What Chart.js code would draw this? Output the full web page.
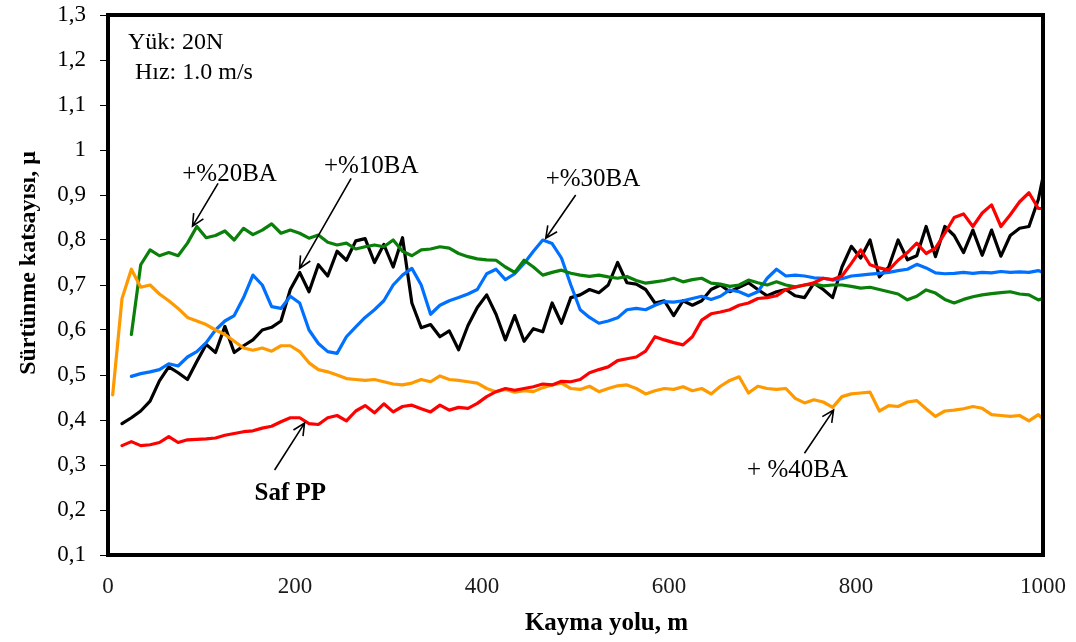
<!DOCTYPE html>
<html>
<head>
<meta charset="utf-8">
<script src="https://cdn.jsdelivr.net/npm/chart.js@4/dist/chart.umd.min.js"></script>
<style>
    body { margin: 0; background: #fff; }
</style>
</head>
<body>
<canvas id="friction-chart" width="1076" height="642"></canvas>
<script>
// Sliding distance (m), shared by every curve
const distance = [5, 15, 25, 35, 45, 55, 65, 75, 85, 95,
    105, 115, 125, 135, 145, 155, 165, 175, 185, 195,
    205, 215, 225, 235, 245, 255, 265, 275, 285, 295,
    305, 315, 325, 335, 345, 355, 365, 375, 385, 395,
    405, 415, 425, 435, 445, 455, 465, 475, 485, 495,
    505, 515, 525, 535, 545, 555, 565, 575, 585, 595,
    605, 615, 625, 635, 645, 655, 665, 675, 685, 695,
    705, 715, 725, 735, 745, 755, 765, 775, 785, 795,
    805, 815, 825, 835, 845, 855, 865, 875, 885, 895,
    905, 915, 925, 935, 945, 955, 965, 975, 985, 995, 1000];

// Friction coefficient
const safPP = [null, 0.343, 0.352, 0.343, 0.345, 0.350, 0.363, 0.350, 0.356, 0.357,
    0.358, 0.360, 0.366, 0.370, 0.374, 0.376, 0.382, 0.386, 0.396, 0.405,
    0.405, 0.392, 0.390, 0.405, 0.410, 0.398, 0.420, 0.432, 0.416, 0.436,
    0.418, 0.430, 0.433, 0.425, 0.418, 0.433, 0.422, 0.428, 0.426, 0.437,
    0.452, 0.463, 0.470, 0.466, 0.470, 0.474, 0.480, 0.478, 0.486, 0.485,
    0.490, 0.505, 0.512, 0.518, 0.532, 0.536, 0.540, 0.553, 0.585, 0.578,
    0.572, 0.567, 0.585, 0.622, 0.636, 0.640, 0.645, 0.655, 0.660, 0.670,
    0.672, 0.676, 0.690, 0.695, 0.700, 0.705, 0.715, 0.712, 0.720, 0.748,
    0.778, 0.745, 0.738, 0.733, 0.755, 0.772, 0.793, 0.770, 0.782, 0.815,
    0.850, 0.858, 0.830, 0.860, 0.878, 0.830, 0.856, 0.885, 0.905, 0.870, 0.870];

const ba10 = [null, 0.392, 0.405, 0.420, 0.442, 0.487, 0.518, 0.505, 0.490, 0.530,
    0.568, 0.550, 0.608, 0.550, 0.565, 0.578, 0.600, 0.606, 0.620, 0.690,
    0.728, 0.685, 0.745, 0.720, 0.775, 0.755, 0.798, 0.803, 0.750, 0.790,
    0.740, 0.805, 0.660, 0.605, 0.612, 0.585, 0.598, 0.556, 0.610, 0.650,
    0.678, 0.635, 0.578, 0.632, 0.575, 0.603, 0.596, 0.660, 0.615, 0.672,
    0.678, 0.690, 0.683, 0.700, 0.750, 0.705, 0.702, 0.690, 0.660, 0.665,
    0.632, 0.665, 0.655, 0.665, 0.690, 0.700, 0.685, 0.695, 0.705, 0.690,
    0.676, 0.685, 0.690, 0.676, 0.672, 0.704, 0.690, 0.672, 0.740, 0.786,
    0.760, 0.800, 0.718, 0.740, 0.800, 0.756, 0.765, 0.830, 0.763, 0.830,
    0.810, 0.772, 0.822, 0.766, 0.822, 0.764, 0.810, 0.826, 0.830, 0.890, 0.940];

const ba20 = [null, null, 0.590, 0.745, 0.778, 0.765, 0.772, 0.765, 0.793, 0.830,
    0.805, 0.810, 0.820, 0.800, 0.826, 0.812, 0.822, 0.836, 0.815, 0.822,
    0.815, 0.804, 0.811, 0.795, 0.789, 0.793, 0.780, 0.785, 0.789, 0.785,
    0.800, 0.775, 0.765, 0.778, 0.780, 0.785, 0.782, 0.770, 0.763, 0.758,
    0.756, 0.755, 0.740, 0.728, 0.755, 0.740, 0.722, 0.728, 0.733, 0.726,
    0.722, 0.719, 0.722, 0.718, 0.715, 0.719, 0.710, 0.704, 0.707, 0.710,
    0.715, 0.707, 0.712, 0.715, 0.704, 0.702, 0.697, 0.700, 0.711, 0.705,
    0.700, 0.707, 0.700, 0.696, 0.700, 0.702, 0.698, 0.700, 0.700, 0.697,
    0.693, 0.695, 0.690, 0.685, 0.680, 0.667, 0.675, 0.689, 0.682, 0.668,
    0.660, 0.668, 0.674, 0.678, 0.681, 0.683, 0.685, 0.680, 0.678, 0.667, 0.670];

const ba30 = [null, null, 0.497, 0.503, 0.507, 0.512, 0.525, 0.520, 0.540, 0.552,
    0.572, 0.600, 0.620, 0.632, 0.672, 0.722, 0.700, 0.652, 0.648, 0.675,
    0.660, 0.600, 0.570, 0.552, 0.548, 0.585, 0.607, 0.628, 0.645, 0.665,
    0.700, 0.722, 0.737, 0.700, 0.635, 0.655, 0.665, 0.672, 0.680, 0.690,
    0.725, 0.735, 0.712, 0.725, 0.748, 0.775, 0.800, 0.792, 0.760, 0.700,
    0.645, 0.628, 0.615, 0.620, 0.627, 0.645, 0.648, 0.645, 0.655, 0.663,
    0.662, 0.665, 0.670, 0.675, 0.668, 0.675, 0.689, 0.685, 0.676, 0.685,
    0.715, 0.735, 0.720, 0.722, 0.720, 0.716, 0.715, 0.711, 0.714, 0.720,
    0.722, 0.724, 0.726, 0.728, 0.732, 0.735, 0.746, 0.738, 0.727, 0.725,
    0.726, 0.728, 0.726, 0.728, 0.727, 0.730, 0.728, 0.729, 0.728, 0.732, 0.728];

const ba40 = [0.456, 0.670, 0.735, 0.695, 0.700, 0.680, 0.665, 0.648, 0.628, 0.620,
    0.612, 0.600, 0.590, 0.575, 0.560, 0.555, 0.560, 0.553, 0.565, 0.565,
    0.552, 0.527, 0.512, 0.507, 0.500, 0.492, 0.490, 0.488, 0.490, 0.485,
    0.480, 0.478, 0.482, 0.490, 0.485, 0.498, 0.490, 0.488, 0.485, 0.482,
    0.470, 0.463, 0.468, 0.462, 0.465, 0.463, 0.472, 0.478, 0.482, 0.470,
    0.468, 0.475, 0.463, 0.470, 0.476, 0.478, 0.470, 0.458, 0.465, 0.470,
    0.468, 0.474, 0.465, 0.470, 0.458, 0.475, 0.488, 0.496, 0.460, 0.475,
    0.470, 0.468, 0.470, 0.448, 0.438, 0.445, 0.440, 0.428, 0.452, 0.458,
    0.460, 0.462, 0.420, 0.432, 0.430, 0.440, 0.443, 0.425, 0.408, 0.420,
    0.422, 0.425, 0.430, 0.426, 0.412, 0.410, 0.408, 0.410, 0.398, 0.412, 0.402];

// Axis tick labels (decimal comma)
const yTickLabels = ['0,1', '0,2', '0,3', '0,4', '0,5', '0,6', '0,7', '0,8', '0,9', '1', '1,1', '1,2', '1,3'];
const xTickLabels = ['0', '200', '400', '600', '800', '1000'];

// Curve labels with their arrows, in data units
const labelTexts = ['+%20BA', '+%10BA', '+%30BA', 'Saf PP', '+ %40BA'];
const labelPos = [[130, 0.931], [281.5, 0.949], [518.7, 0.919], [195, 0.222], [737.5, 0.274]];
const arrowFrom = [[117.7, 0.926], [260, 0.937], [500.2, 0.900], [178.2, 0.289], [744.9, 0.326]];
const arrowTo = [[90.4, 0.831], [204.9, 0.737], [468.2, 0.804], [210.2, 0.393], [776, 0.422]];
const labelBold = [false, false, false, true, false];

// Test conditions written in the corner
const noteTexts = ['Yük: 20N', 'Hız: 1.0 m/s'];
const notePos = [[21.3, 1.224], [28.8, 1.158]];

function pairs(values) {
    return distance.map((d, i) => ({ x: d, y: values[i] }));
}

function drawArrow(ctx, x1, y1, x2, y2) {
    // Line with an open V head at (x2, y2)
    const angle = Math.atan2(y2 - y1, x2 - x1);
    const head = 13;
    ctx.beginPath();
    ctx.moveTo(x1, y1);
    ctx.lineTo(x2, y2);
    ctx.moveTo(x2 - head * Math.cos(angle - 0.45), y2 - head * Math.sin(angle - 0.45));
    ctx.lineTo(x2, y2);
    ctx.lineTo(x2 - head * Math.cos(angle + 0.45), y2 - head * Math.sin(angle + 0.45));
    ctx.stroke();
}

// Frame, axis titles and the callout labels
const decorations = {
    id: 'decorations',
    afterDatasetsDraw(chart) {
        const { ctx, chartArea, scales } = chart;
        const sx = scales.x, sy = scales.y;
        ctx.save();

        // Heavy frame around the plot
        ctx.strokeStyle = '#000';
        ctx.lineWidth = 4;
        ctx.strokeRect(chartArea.left, chartArea.top, chartArea.right - chartArea.left, chartArea.bottom - chartArea.top);

        // Callouts
        ctx.fillStyle = '#000';
        ctx.lineWidth = 1.6;
        ctx.textAlign = 'center';
        ctx.textBaseline = 'alphabetic';
        labelTexts.forEach((t, i) => {
            ctx.font = (labelBold[i] ? 'bold ' : '') + '25px "Liberation Serif", "Times New Roman", serif';
            ctx.fillText(t, sx.getPixelForValue(labelPos[i][0]), sy.getPixelForValue(labelPos[i][1]));
            drawArrow(ctx,
                sx.getPixelForValue(arrowFrom[i][0]), sy.getPixelForValue(arrowFrom[i][1]),
                sx.getPixelForValue(arrowTo[i][0]), sy.getPixelForValue(arrowTo[i][1]));
        });

        // Test conditions
        ctx.textAlign = 'left';
        ctx.font = '24px "Liberation Serif", "Times New Roman", serif';
        noteTexts.forEach((t, i) => {
            ctx.fillText(t, sx.getPixelForValue(notePos[i][0]), sy.getPixelForValue(notePos[i][1]));
        });

        // Axis titles
        ctx.font = 'bold 25px "Liberation Serif", "Times New Roman", serif';
        ctx.textAlign = 'center';
        ctx.fillText('Kayma yolu, m', (chartArea.left + chartArea.right) / 2 + 31, chart.height - 12);

        ctx.font = 'bold 24px "Liberation Serif", "Times New Roman", serif';
        ctx.translate(35, chartArea.top + 248);
        ctx.rotate(-Math.PI / 2);
        ctx.fillText('Sürtünme katsayısı, μ', 0, 0);

        ctx.restore();
    }
};

const ctx = document.getElementById('friction-chart');

new Chart(ctx, {
    type: 'line',
    data: {
        datasets: [
            { label: 'Saf PP', data: pairs(safPP), borderColor: '#ff0000' },
            { label: '+%40BA', data: pairs(ba40), borderColor: '#ff9900' },
            { label: '+%20BA', data: pairs(ba20), borderColor: '#0a800a' },
            { label: '+%30BA', data: pairs(ba30), borderColor: '#0070ff' },
            { label: '+%10BA', data: pairs(ba10), borderColor: '#000000' }
        ]
    },
    options: {
        responsive: false,
        animation: false,
        // Lines are plain strokes, no markers
        elements: {
            point: { radius: 0 },
            line: { borderWidth: 3.2, tension: 0, borderJoinStyle: 'round', borderCapStyle: 'round' }
        },
        layout: {
            autoPadding: false,
            padding: { top: 15, right: 31, bottom: 0, left: 0 }
        },
        plugins: {
            legend: { display: false },
            tooltip: { enabled: false }
        },
        scales: {
            x: {
                type: 'linear',
                min: 0,
                max: 1000,
                afterFit: (scale) => { scale.height = 87; },
                grid: { display: false },
                border: { display: false },
                ticks: {
                    stepSize: 200,
                    padding: 10,
                    maxRotation: 0,
                    color: '#1a1a1a',
                    font: { family: '"Liberation Serif", "Times New Roman", serif', size: 23 },
                    callback: (v) => xTickLabels[Math.round(v / 200)]
                }
            },
            y: {
                min: 0.1,
                max: 1.3,
                // Fixed width, and no extra room reserved above the top label
                afterFit: (scale) => {
                    scale.width = 108;
                    scale.paddingTop = 0;
                    scale.paddingBottom = 0;
                },
                grid: {
                    drawOnChartArea: false,
                    drawTicks: true,
                    tickLength: 8,
                    color: '#000',
                    lineWidth: 1
                },
                border: { display: false },
                ticks: {
                    stepSize: 0.1,
                    padding: 14,
                    color: '#000',
                    font: { family: '"Liberation Serif", "Times New Roman", serif', size: 23 },
                    callback: (v) => yTickLabels[Math.round(v * 10) - 1]
                }
            }
        }
    },
    plugins: [decorations]
});
</script>
</body>
</html>
